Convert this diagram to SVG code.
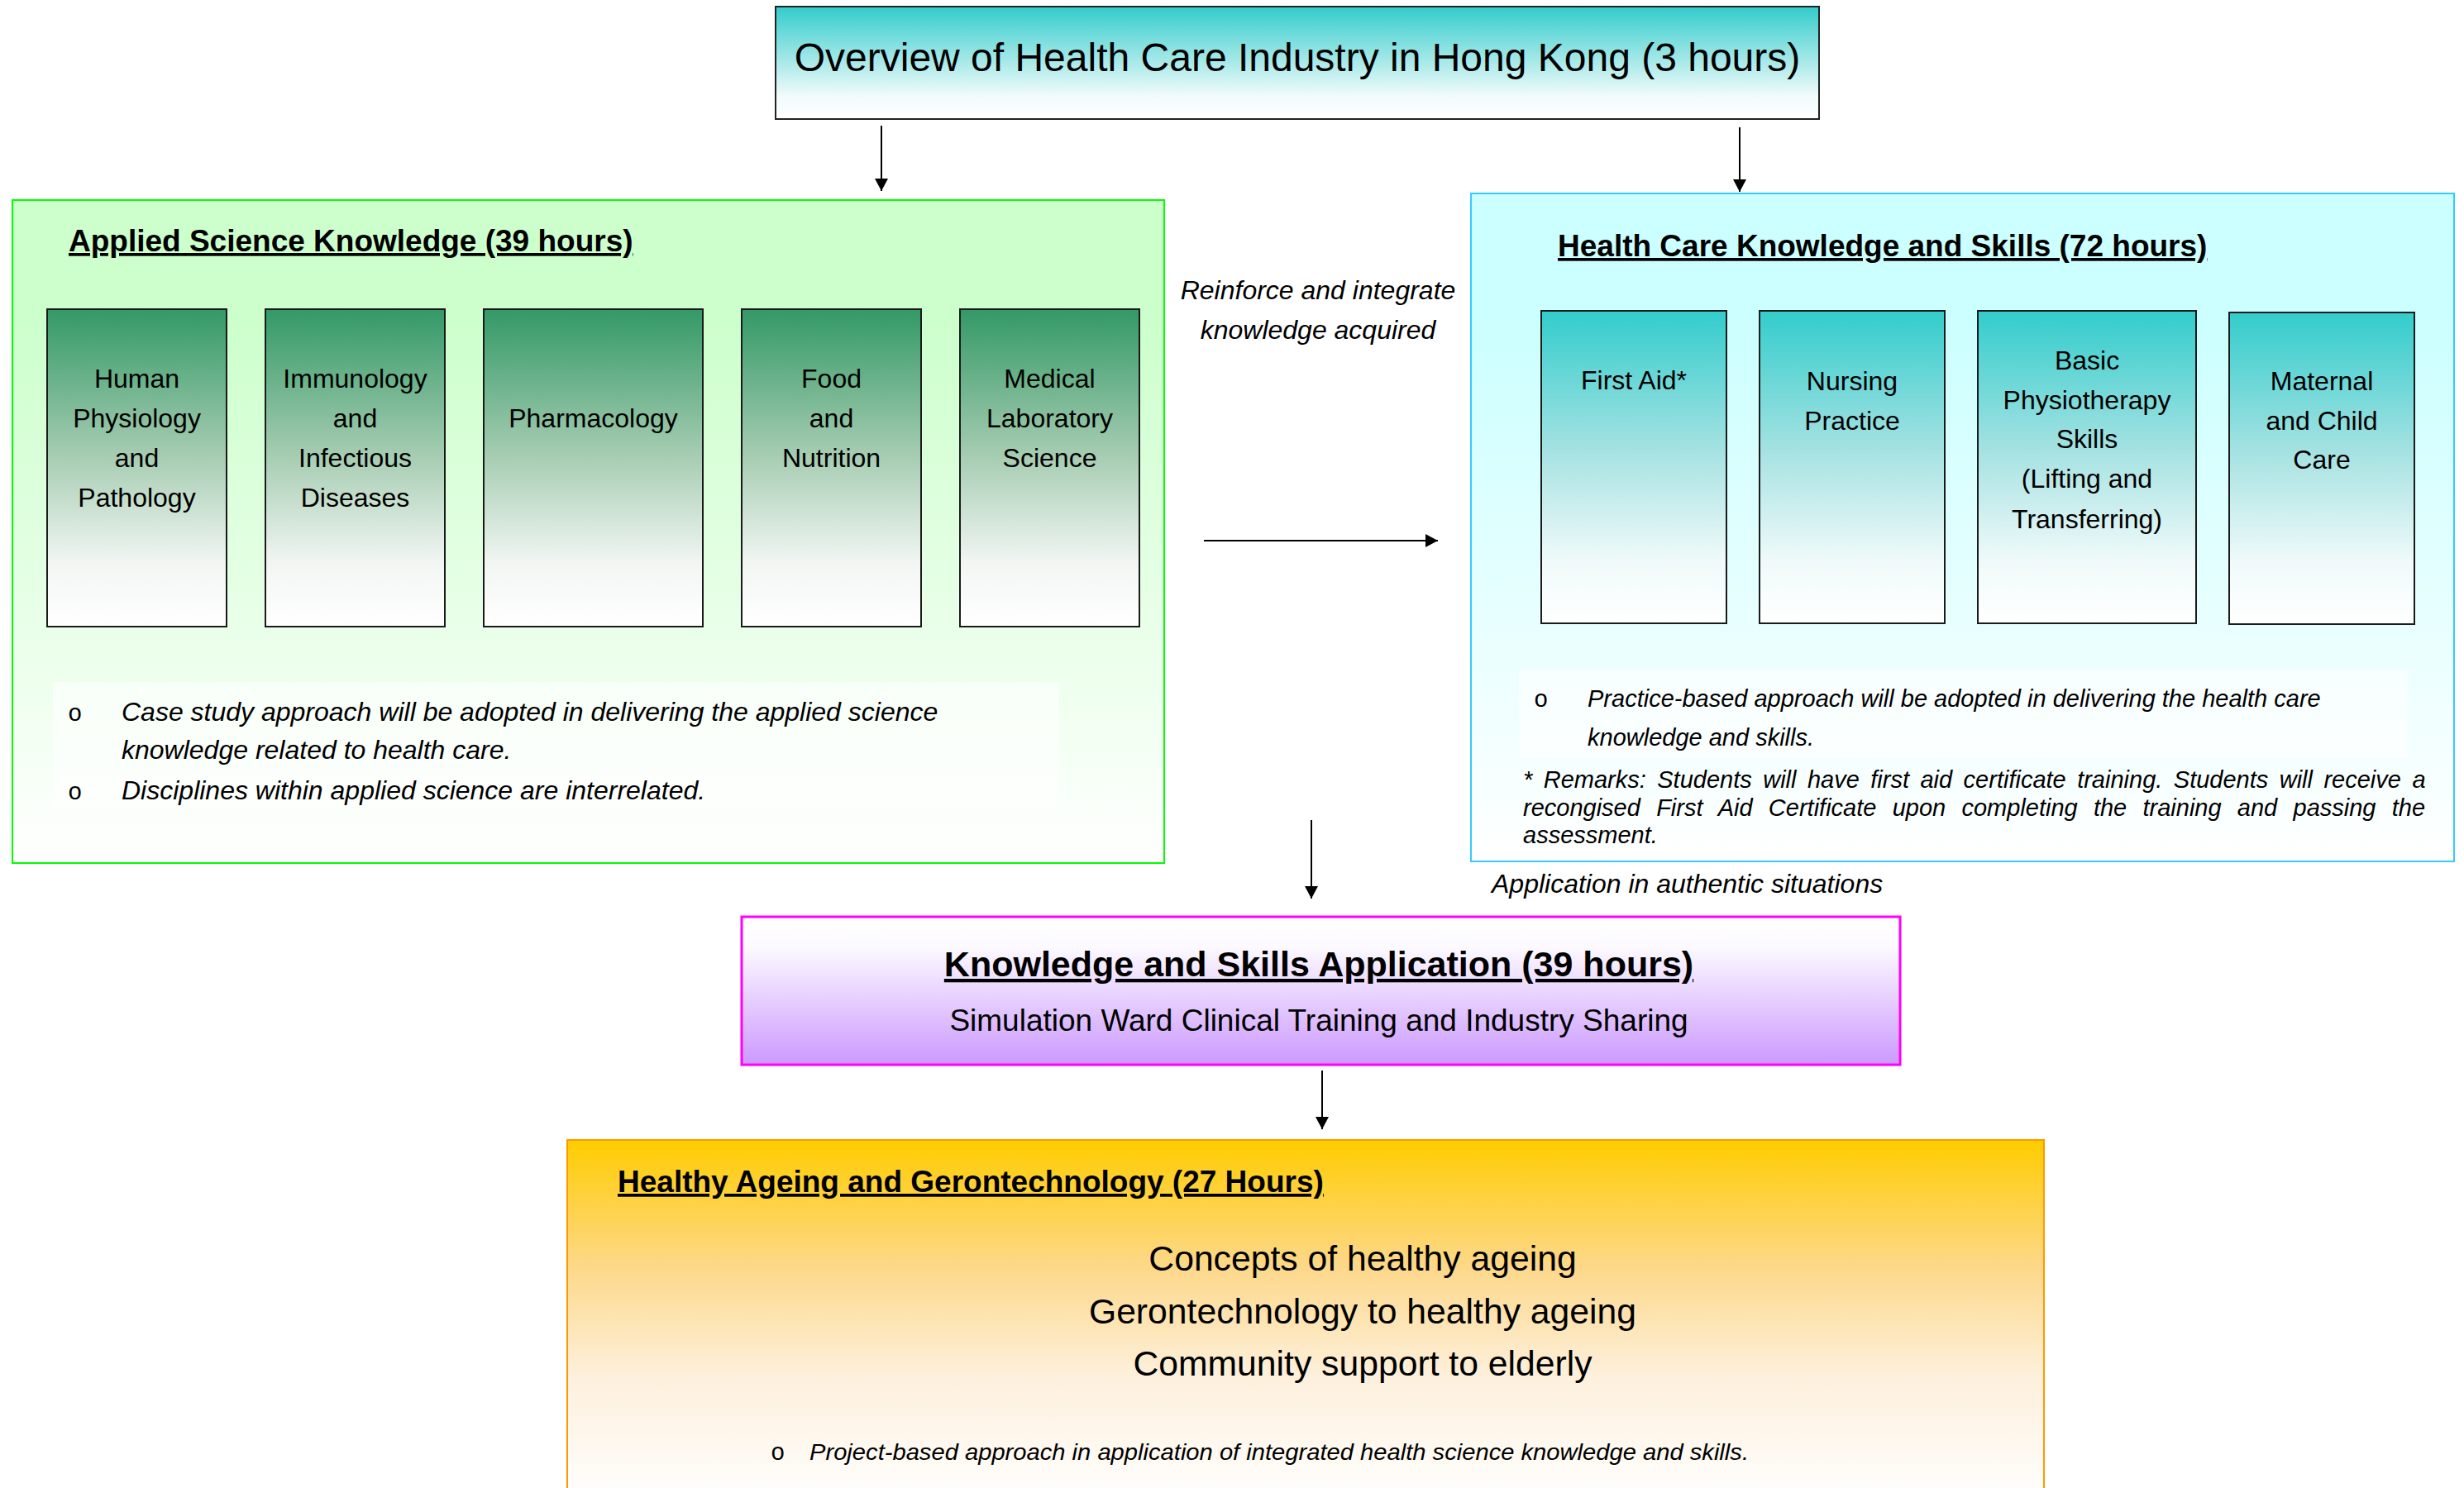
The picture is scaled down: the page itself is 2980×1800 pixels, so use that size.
<svg xmlns="http://www.w3.org/2000/svg" width="2980" height="1800" viewBox="0 0 2980 1800">
<style>
  text { font-family: "Liberation Sans", Arial, sans-serif; fill: #000; }
  .c { text-anchor: middle; }
  .box { font-size: 32px; }
  .ttl { font-weight: bold; font-size: 37px; text-decoration: underline; }
  .it { font-style: italic; }
  .bul { font-family: "Liberation Mono", "Courier New", monospace; font-size: 29px; }
  .conn { stroke: #000; stroke-width: 2; fill: none; marker-end: url(#arr); }
  .inner { stroke: #1a1a1a; stroke-width: 2; }
</style>
<defs>
  <marker id="arr" markerUnits="userSpaceOnUse" markerWidth="16" markerHeight="16" refX="15" refY="8" orient="auto">
    <path d="M0,0 L15,8 L0,16 z" fill="#000"/>
  </marker>
  <linearGradient id="gTop" x1="0" y1="0" x2="0" y2="1">
    <stop offset="0" stop-color="#33cccc"/>
    <stop offset="0.8" stop-color="#f2fbfb"/>
    <stop offset="1" stop-color="#ffffff"/>
  </linearGradient>
  <linearGradient id="gGreenPanel" x1="0" y1="0" x2="0" y2="1">
    <stop offset="0" stop-color="#ccffcc"/>
    <stop offset="0.18" stop-color="#ccffcc"/>
    <stop offset="1" stop-color="#ffffff"/>
  </linearGradient>
  <linearGradient id="gGreenBox" x1="0" y1="0" x2="0" y2="1">
    <stop offset="0" stop-color="#339966"/>
    <stop offset="0.45" stop-color="#a3cbb0"/>
    <stop offset="0.8" stop-color="#f2f6f3"/>
    <stop offset="1" stop-color="#ffffff"/>
  </linearGradient>
  <linearGradient id="gCyanPanel" x1="0" y1="0" x2="0" y2="1">
    <stop offset="0" stop-color="#ccffff"/>
    <stop offset="0.2" stop-color="#ccffff"/>
    <stop offset="1" stop-color="#ffffff"/>
  </linearGradient>
  <linearGradient id="gCyanBox" x1="0" y1="0" x2="0" y2="1">
    <stop offset="0" stop-color="#33cccc"/>
    <stop offset="0.45" stop-color="#a6e2e2"/>
    <stop offset="0.8" stop-color="#f0fafa"/>
    <stop offset="1" stop-color="#ffffff"/>
  </linearGradient>
  <linearGradient id="gPurple" x1="0" y1="0" x2="0" y2="1">
    <stop offset="0" stop-color="#ffffff"/>
    <stop offset="0.2" stop-color="#fcfaff"/>
    <stop offset="1" stop-color="#cc99ff"/>
  </linearGradient>
  <linearGradient id="gOrange" x1="0" y1="0" x2="0" y2="1">
    <stop offset="0" stop-color="#ffcc00"/>
    <stop offset="0.35" stop-color="#fdd88a"/>
    <stop offset="0.65" stop-color="#fdf0dc"/>
    <stop offset="1" stop-color="#ffffff"/>
  </linearGradient>
</defs>

<g id="overview">
  <rect x="938" y="8" width="1262" height="136" fill="url(#gTop)" stroke="#222" stroke-width="2"/>
  <text x="1569" y="86" class="c" font-size="48">Overview of Health Care Industry in Hong Kong (3 hours)</text>
</g>

<g id="applied-science">
  <rect x="15" y="242" width="1393" height="802" fill="url(#gGreenPanel)" stroke="#00ff00" stroke-width="2"/>
  <text x="83" y="304" class="ttl">Applied Science Knowledge (39 hours)</text>
  <g id="as-human">
    <rect x="57" y="374" width="217" height="384" fill="url(#gGreenBox)" class="inner"/>
    <text class="box c" x="165.5" y="469">Human</text>
    <text class="box c" x="165.5" y="517">Physiology</text>
    <text class="box c" x="165.5" y="565">and</text>
    <text class="box c" x="165.5" y="613">Pathology</text>
  </g>
  <g id="as-immunology">
    <rect x="321" y="374" width="217" height="384" fill="url(#gGreenBox)" class="inner"/>
    <text class="box c" x="429.5" y="469">Immunology</text>
    <text class="box c" x="429.5" y="517">and</text>
    <text class="box c" x="429.5" y="565">Infectious</text>
    <text class="box c" x="429.5" y="613">Diseases</text>
  </g>
  <g id="as-pharmacology">
    <rect x="585" y="374" width="265" height="384" fill="url(#gGreenBox)" class="inner"/>
    <text class="box c" x="717.5" y="517">Pharmacology</text>
  </g>
  <g id="as-food">
    <rect x="897" y="374" width="217" height="384" fill="url(#gGreenBox)" class="inner"/>
    <text class="box c" x="1005.5" y="469">Food</text>
    <text class="box c" x="1005.5" y="517">and</text>
    <text class="box c" x="1005.5" y="565">Nutrition</text>
  </g>
  <g id="as-medlab">
    <rect x="1161" y="374" width="217" height="384" fill="url(#gGreenBox)" class="inner"/>
    <text class="box c" x="1269.5" y="469">Medical</text>
    <text class="box c" x="1269.5" y="517">Laboratory</text>
    <text class="box c" x="1269.5" y="565">Science</text>
  </g>
  <rect x="64" y="825" width="1217" height="151" fill="#ffffff" fill-opacity="0.6"/>
  <text class="bul" x="82" y="872">o</text>
  <text class="it" font-size="32" x="147" y="872">Case study approach will be adopted in delivering the applied science</text>
  <text class="it" font-size="32" x="147" y="918">knowledge related to health care.</text>
  <text class="bul" x="82" y="967">o</text>
  <text class="it" font-size="32" x="147" y="967">Disciplines within applied science are interrelated.</text>
</g>

<g id="health-care">
  <rect x="1779" y="234" width="1189" height="808" fill="url(#gCyanPanel)" stroke="#33ccff" stroke-width="2"/>
  <text x="1884" y="310" class="ttl">Health Care Knowledge and Skills (72 hours)</text>
  <g id="hc-firstaid">
    <rect x="1864" y="376" width="224" height="378" fill="url(#gCyanBox)" class="inner"/>
    <text class="box c" x="1976" y="471">First Aid*</text>
  </g>
  <g id="hc-nursing">
    <rect x="2128" y="376" width="224" height="378" fill="url(#gCyanBox)" class="inner"/>
    <text class="box c" x="2240" y="472">Nursing</text>
    <text class="box c" x="2240" y="520">Practice</text>
  </g>
  <g id="hc-physio">
    <rect x="2392" y="376" width="264" height="378" fill="url(#gCyanBox)" class="inner"/>
    <text class="box c" x="2524" y="447">Basic</text>
    <text class="box c" x="2524" y="495">Physiotherapy</text>
    <text class="box c" x="2524" y="542">Skills</text>
    <text class="box c" x="2524" y="590">(Lifting and</text>
    <text class="box c" x="2524" y="639">Transferring)</text>
  </g>
  <g id="hc-maternal">
    <rect x="2696" y="378" width="224" height="377" fill="url(#gCyanBox)" class="inner"/>
    <text class="box c" x="2808" y="472">Maternal</text>
    <text class="box c" x="2808" y="520">and Child</text>
    <text class="box c" x="2808" y="567">Care</text>
  </g>
  <rect x="1837" y="810" width="1075" height="107" fill="#ffffff" fill-opacity="0.6"/>
  <text class="bul" font-size="26" x="1855" y="855">o</text>
  <text class="it" font-size="29" x="1920" y="855">Practice-based approach will be adopted in delivering the health care</text>
  <text class="it" font-size="29" x="1920" y="902">knowledge and skills.</text>
  <text class="it" font-size="29" x="1842" y="953" word-spacing="5.4">* Remarks: Students will have first aid certificate training. Students will receive a</text>
  <text class="it" font-size="29" x="1842" y="987" word-spacing="11.2">recongised First Aid Certificate upon completing the training and passing the</text>
  <text class="it" font-size="29" x="1842" y="1020">assessment.</text>
</g>

<g id="application">
  <rect x="897" y="1109" width="1401" height="179" fill="url(#gPurple)" stroke="#ff00ff" stroke-width="3"/>
  <text x="1595" y="1181" class="c" font-weight="bold" font-size="43" text-decoration="underline">Knowledge and Skills Application (39 hours)</text>
  <text x="1595" y="1247" class="c" font-size="37">Simulation Ward Clinical Training and Industry Sharing</text>
</g>

<g id="ageing">
  <rect x="686" y="1379" width="1786" height="440" fill="url(#gOrange)" stroke="#ff9900" stroke-width="2"/>
  <text x="747" y="1442" class="ttl">Healthy Ageing and Gerontechnology (27 Hours)</text>
  <text x="1648" y="1537" class="c" font-size="42.7">Concepts of healthy ageing</text>
  <text x="1648" y="1601" class="c" font-size="42.7">Gerontechnology to healthy ageing</text>
  <text x="1648" y="1664" class="c" font-size="42.7">Community support to elderly</text>
  <text class="bul" font-size="26" x="932" y="1766">o</text>
  <text class="it" font-size="28" x="979" y="1766" textLength="1136" lengthAdjust="spacingAndGlyphs">Project-based approach in application of integrated health science knowledge and skills.</text>
</g>

<g id="labels">
  <text class="it c" font-size="32" x="1594" y="362">Reinforce and integrate</text>
  <text class="it c" font-size="32" x="1594" y="410">knowledge acquired</text>
  <text class="it" font-size="32" x="1804" y="1080">Application in authentic situations</text>
</g>

<g id="connectors">
  <line class="conn" x1="1066" y1="152" x2="1066" y2="231"/>
  <line class="conn" x1="2104" y1="154" x2="2104" y2="232"/>
  <line class="conn" x1="1456" y1="654" x2="1739" y2="654"/>
  <line class="conn" x1="1586" y1="992" x2="1586" y2="1087"/>
  <line class="conn" x1="1599" y1="1295" x2="1599" y2="1366"/>
</g>
</svg>
